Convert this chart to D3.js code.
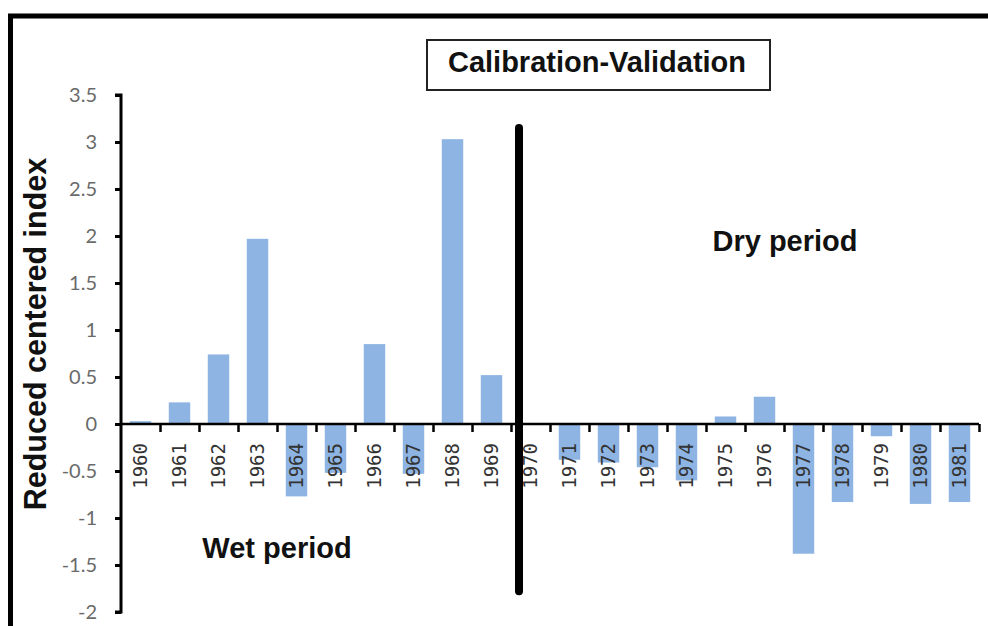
<!DOCTYPE html>
<html>
<head>
<meta charset="utf-8">
<script src="https://cdn.jsdelivr.net/npm/d3@7"></script>
<style>
  body { margin: 0; background: #fff; }
  svg { display: block; }
</style>
</head>
<body>
<svg id="chart" width="988" height="626"></svg>
<script>
// years on the x axis
const years = ['1960', '1961', '1962', '1963', '1964', '1965', '1966', '1967', '1968', '1969', '1970',
    '1971', '1972', '1973', '1974', '1975', '1976', '1977', '1978', '1979', '1980', '1981'];

// reduced centered index
const values = [0.03, 0.23, 0.74, 1.97, -0.77, -0.52, 0.85, -0.53, 3.03, 0.52, 0,
    -0.38, -0.41, -0.46, -0.60, 0.08, 0.29, -1.38, -0.83, -0.13, -0.85, -0.83];

const yTicks = [-2, -1.5, -1, -0.5, 0, 0.5, 1, 1.5, 2, 2.5, 3, 3.5];

// the separator between wet and dry period
const splitYear = '1970';
const splitRange = [3.15, -1.78];

const svg = d3.select('#chart');

const x = d3.scaleBand()
    .domain(years)
    .range([121, 979])
    .paddingInner(0.45)
    .paddingOuter(0.225);

const y = d3.scaleLinear()
    .domain([-2, 3.5])
    .range([612, 95]);

// outer frame (only top and left edge are visible in the picture)
svg.append('rect')
    .attr('x', 10.5).attr('y', 16)
    .attr('width', 1000).attr('height', 700)
    .attr('fill', 'none')
    .attr('stroke', '#000')
    .attr('stroke-width', 5);

// bars
svg.selectAll('.bar')
    .data(years)
    .enter()
    .append('rect')
    .attr('class', 'bar')
    .attr('x', function(d) { return x(d); })
    .attr('width', x.bandwidth())
    .attr('y', function(d, i) { return y(Math.max(0, values[i])); })
    .attr('height', function(d, i) { return Math.abs(y(values[i]) - y(0)); })
    .attr('fill', '#8db4e2');

// y axis
const yAxis = svg.append('g')
    .attr('transform', 'translate(121,0)')
    .call(d3.axisLeft(y).tickValues(yTicks).tickSize(6).tickPadding(18)
        .tickFormat(function(d) { return String(d); }));
yAxis.select('.domain').attr('stroke-width', 3).attr('d', 'M-6,' + y(3.5) + 'H0V' + y(-2) + 'H-6');
yAxis.selectAll('.tick line').attr('stroke-width', 3);
yAxis.selectAll('text')
    .attr('fill', '#6a6a6a')
    .style('font-family', 'Lato, "Open Sans", sans-serif')
    .style('font-size', '20px');

// x axis: tick marks on the category boundaries
const step = x.step();
const edges = d3.range(years.length + 1);
const xEdge = d3.scaleLinear().domain([0, years.length]).range([121, 121 + step * years.length]);
const xAxis = svg.append('g')
    .attr('transform', 'translate(0,' + y(0) + ')')
    .call(d3.axisBottom(xEdge).tickValues(edges.slice(1)).tickSize(8).tickFormat(''));
xAxis.select('.domain').attr('stroke-width', 2.5).attr('d', 'M121,0H' + xEdge(years.length));
xAxis.selectAll('.tick line').attr('stroke-width', 2.5);

// x labels, rotated
const xLabels = svg.append('g')
    .attr('transform', 'translate(0,' + y(0) + ')')
    .call(d3.axisBottom(x).tickSize(0).tickPadding(0));
xLabels.select('.domain').remove();
xLabels.selectAll('text')
    .attr('transform', 'rotate(-90)')
    .attr('text-anchor', 'end')
    .attr('x', -19)
    .attr('y', 0)
    .attr('dy', '0.36em')
    .attr('fill', '#333')
    .style('font-family', '"DejaVu Sans Mono", monospace')
    .style('font-size', '19px');

// separator line
svg.append('line')
    .attr('x1', x(splitYear) - x.step() * 0.225 + 8)
    .attr('x2', x(splitYear) - x.step() * 0.225 + 8)
    .attr('y1', y(splitRange[0]))
    .attr('y2', y(splitRange[1]))
    .attr('stroke', '#000')
    .attr('stroke-width', 8)
    .attr('stroke-linecap', 'round');

// title box
svg.append('rect')
    .attr('x', 427).attr('y', 40)
    .attr('width', 343).attr('height', 50)
    .attr('fill', '#fff')
    .attr('stroke', '#222')
    .attr('stroke-width', 2);

const bold = 'font-family:"Liberation Sans", Arial, sans-serif;font-weight:bold;font-size:29px;fill:#111';

svg.append('text')
    .attr('x', 597).attr('y', 72)
    .attr('text-anchor', 'middle')
    .attr('style', bold)
    .text('Calibration-Validation');

svg.append('text')
    .attr('x', 785).attr('y', 251)
    .attr('text-anchor', 'middle')
    .attr('style', bold)
    .text('Dry period');

svg.append('text')
    .attr('x', 277).attr('y', 558)
    .attr('text-anchor', 'middle')
    .attr('style', bold)
    .text('Wet period');

// y axis title
svg.append('text')
    .attr('transform', 'translate(46,334) rotate(-90)')
    .attr('text-anchor', 'middle')
    .attr('style', 'font-family:"Liberation Sans", Arial, sans-serif;font-weight:bold;font-size:30.5px;fill:#111')
    .text('Reduced centered index');
</script>
</body>
</html>
